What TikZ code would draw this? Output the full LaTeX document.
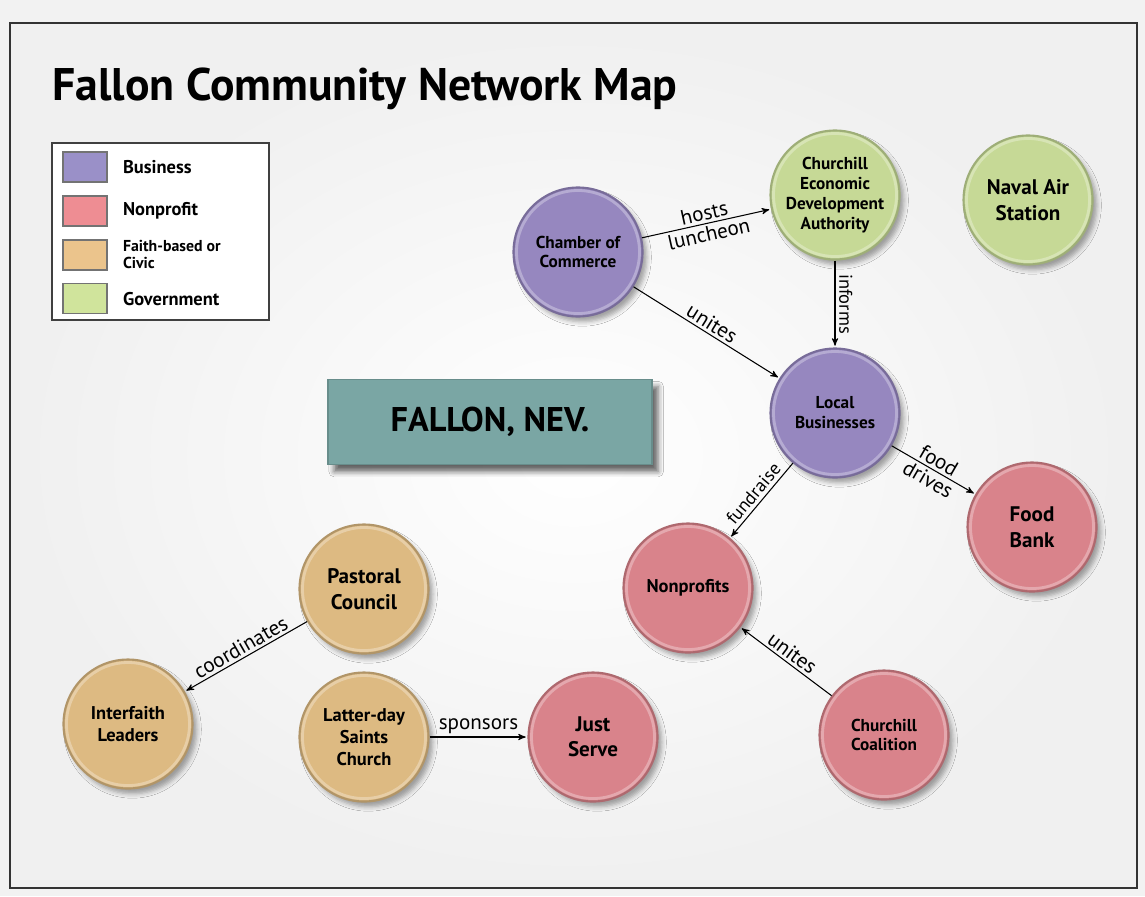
\documentclass[tikz,border=0pt]{standalone}
\usepackage{fontspec}
\setmainfont{PT Sans}
\usepackage{xcolor}
\usepackage{tikz}
\usetikzlibrary{arrows,positioning,shadows.blur}

% fills for the four kinds of organisation
\definecolor{bizfill}{HTML}{9687BF}
\definecolor{npfill}{HTML}{D9838B}
\definecolor{faithfill}{HTML}{DDBA82}
\definecolor{govfill}{HTML}{C6D996}
% legend swatches are a little brighter
\definecolor{bizkey}{HTML}{9A90C8}
\definecolor{npkey}{HTML}{EE8D93}
\definecolor{faithkey}{HTML}{EBC48C}
\definecolor{govkey}{HTML}{D0E49C}
\definecolor{townfill}{HTML}{7AA6A4}

\begin{document}
\begin{tikzpicture}[x=0.2mm,y=-0.2mm,%
         org/.style={circle,on grid,minimum size=25.8mm,inner sep=0pt,align=center,line width=1.2pt,
                     font=\bfseries\fontsize{9.8}{11.3}\selectfont,
                     path picture={\draw [white,opacity=0.3,line width=1.6pt]
                                   (path picture bounding box.center) circle (12.3mm);},
                     blur shadow={shadow xshift=2.5pt,shadow yshift=-3pt,shadow blur radius=2.5pt,shadow opacity=35}},
         biz/.style={org,fill=bizfill,draw=bizfill!80!black},
         np/.style={org,fill=npfill,draw=npfill!80!black},
         faith/.style={org,fill=faithfill,draw=faithfill!80!black},
         gov/.style={org,fill=govfill,draw=govfill!80!black},
         mid/.style={font=\bfseries\fontsize{10.5}{12.5}\selectfont},
         big/.style={font=\bfseries\fontsize{12}{14.5}\selectfont},
         town/.style={rectangle,minimum width=64.8mm,minimum height=17mm,fill=townfill,
                      draw=townfill!85!black,line width=0.8pt,font=\bfseries\fontsize{19.5}{22}\selectfont,
                      blur shadow={shadow xshift=3.5pt,shadow yshift=-4pt,shadow blur radius=3pt,shadow opacity=60}},
         key/.style={rectangle,draw=black!55,line width=0.8pt,minimum width=8.8mm,minimum height=6mm},
         keytext/.style={inner sep=0pt,align=left,font=\bfseries\fontsize{10.5}{11}\selectfont},
         rel/.style={->,>=stealth',semithick,shorten >=1pt},
         lbl/.style={sloped,inner sep=1.5pt,font=\fontsize{12}{12}\selectfont},
         lblsmall/.style={lbl,inner sep=2pt,font=\fontsize{10.5}{11}\selectfont}]
        \useasboundingbox (0,0) rectangle (1145,896);
        % page and frame
        \fill [black!5] (0,0) rectangle (1145,896);
        \shade [inner color=white,outer color=black!6] (10,23) rectangle (1137,888);
        \draw [line width=1.4pt,black!80] (10,23) rectangle (1137,888);
        \node [anchor=base west,inner sep=0pt,font=\bfseries\fontsize{26}{30}\selectfont] (title) at (52,100) {Fallon Community Network Map};

        % legend
        \draw [black!75,line width=1pt,fill=white] (52,143) rectangle (269,320);
        \node [key,fill=bizkey] (kbiz) at (85,167) {};
        \node [key,fill=npkey] (knp) [below=2.5mm of kbiz] {};
        \node [key,fill=faithkey] (kfaith) [below=2.5mm of knp] {};
        \node [key,fill=govkey] (kgov) [below=2.5mm of kfaith] {};
        \node [keytext] (tbiz) [right=3mm of kbiz] {Business};
        \node [keytext] (tnp) [right=3mm of knp] {Nonprofit};
        \node [keytext,font=\bfseries\fontsize{9}{9.5}\selectfont] (tfaith) [right=3mm of kfaith] {Faith-based or\\Civic};
        \node [keytext] (tgov) [right=3mm of kgov] {Government};

        \node [town] (town) at (490,422) {FALLON, NEV.};

        % organisations
        \node [biz] (chamber) at (578,252) {Chamber of\\Commerce};
        \node [gov] (ceda) [above right=11.4mm and 51.4mm of chamber] {Churchill\\Economic\\Development\\Authority};
        \node [gov,big] (naval) [below right=1mm and 38.6mm of ceda] {Naval Air\\Station};
        \node [biz] (local) [below=43.6mm of ceda] {Local\\Businesses};
        \node [np,big] (food) [below right=22.8mm and 39.4mm of local] {Food\\Bank};
        \node [np,mid] (nonprofits) [below left=35mm and 29.4mm of local] {Nonprofits};
        \node [np] (coalition) [below right=29.4mm and 39.2mm of nonprofits] {Churchill\\Coalition};
        \node [np,big] (justserve) [below left=29.8mm and 19mm of nonprofits] {Just\\Serve};
        \node [faith,mid] (lds) [left=45.8mm of justserve] {Latter-day\\Saints\\Church};
        \node [faith,big] (pastoral) [above=29.6mm of lds] {Pastoral\\Council};
        \node [faith,mid] (interfaith) [below left=27mm and 47.2mm of pastoral] {Interfaith\\Leaders};

        % ties
        \draw [rel] (chamber) -- node [lbl,above] {hosts} node [lbl,below] {luncheon} (ceda);
        \draw [rel] (chamber) -- node [lbl,above] {unites} (local);
        \draw [rel] (ceda) -- node [lblsmall,above] {informs} (local);
        \draw [rel] (local) -- node [lblsmall,above] {fundraise} (nonprofits);
        \draw [rel] (local) -- node [lbl,above] {food} node [lbl,below] {drives} (food);
        \draw [rel] (coalition) -- node [lbl,above] {unites} (nonprofits);
        \draw [rel] (pastoral) -- node [lbl,above] {coordinates} (interfaith);
        \draw [rel] (lds) -- node [lbl,above] {sponsors} (justserve);
      \end{tikzpicture}
\end{document}
